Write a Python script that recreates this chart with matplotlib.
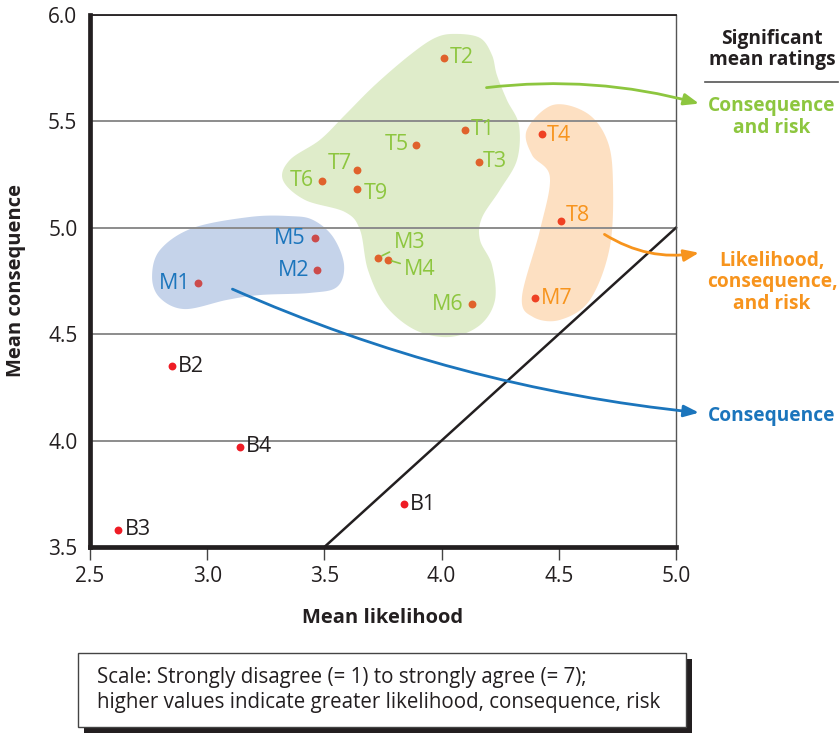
import numpy as np
import matplotlib
matplotlib.use('Agg')
from matplotlib import pyplot as plt
from matplotlib.patches import Polygon, Rectangle
from matplotlib.lines import Line2D

plt.rcParams['font.family'] = ['Open Sans', 'DejaVu Sans']

# data
names = ['T1', 'T2', 'T3', 'T4', 'T5', 'T6', 'T7', 'T8', 'T9',
         'M1', 'M2', 'M3', 'M4', 'M5', 'M6', 'M7',
         'B1', 'B2', 'B3', 'B4']
likelihood = [4.10, 4.01, 4.16, 4.43, 3.89, 3.49, 3.64, 4.51, 3.64,
              2.96, 3.47, 3.73, 3.77, 3.46, 4.13, 4.40,
              3.84, 2.85, 2.62, 3.14]
consequence = [5.46, 5.80, 5.31, 5.44, 5.39, 5.22, 5.27, 5.03, 5.18,
               4.74, 4.80, 4.86, 4.85, 4.95, 4.64, 4.67,
               3.70, 4.35, 3.58, 3.97]
group = ['cr', 'cr', 'cr', 'lcr', 'cr', 'cr', 'cr', 'lcr', 'cr',
         'c', 'c', 'cr', 'cr', 'c', 'cr', 'lcr',
         'none', 'none', 'none', 'none']

# hand-drawn cluster outlines (data coords)
green_x = [4.057, 4.164, 4.215, 4.236, 4.279, 4.330, 4.322, 4.249, 4.172, 4.164, 4.215, 4.228,
           4.164, 4.036, 3.887, 3.759, 3.686, 3.652, 3.588, 3.417, 3.323, 3.353, 3.481, 3.588,
           3.716, 3.865, 3.972]
green_y = [5.911, 5.892, 5.812, 5.718, 5.600, 5.483, 5.319, 5.178, 5.046, 4.943, 4.825, 4.661,
           4.543, 4.487, 4.520, 4.637, 4.802, 4.990, 5.074, 5.131, 5.225, 5.319, 5.413, 5.530,
           5.671, 5.812, 5.892]
blue_x = [3.353, 3.183, 2.939, 2.799, 2.765, 2.799, 2.905, 3.084, 3.225, 3.439, 3.554, 3.584,
          3.537, 3.451]
blue_y = [5.055, 5.051, 4.999, 4.896, 4.769, 4.670, 4.618, 4.661, 4.684, 4.694, 4.722, 4.825,
          4.957, 5.037]
orange_x = [4.475, 4.364, 4.386, 4.462, 4.420, 4.343, 4.390, 4.505, 4.633, 4.718, 4.731, 4.706,
            4.620]
orange_y = [5.577, 5.460, 5.342, 5.239, 4.990, 4.675, 4.581, 4.567, 4.661, 4.910, 5.225, 5.413,
            5.539]

GREEN = '#8dc63f'
ORANGE = '#f7941d'
BLUE = '#1b75bc'
TXT = '#231f20'
label_color = {'cr': GREEN, 'lcr': ORANGE, 'c': BLUE, 'none': TXT}
dot_color = {'cr': '#e0622c', 'lcr': '#ef4123', 'c': '#cc4b4b', 'none': '#ee1c25'}

# label offsets in points
offsets = {
    'T1': (4, 0, 'left'), 'T2': (4, 0, 'left'), 'T3': (3, 0, 'left'), 'T4': (3, -1, 'left'),
    'T5': (-5, 0, 'right'), 'T6': (-6, 0, 'right'), 'T7': (-4, 5, 'right'),
    'T8': (3, 4, 'left'), 'T9': (5, -3, 'left'),
    'M1': (-5, 0, 'right'), 'M2': (-6, 0, 'right'), 'M5': (-7, 0, 'right'),
    'M6': (-6, 0, 'right'), 'M7': (4, 0, 'left'),
    'B1': (4, 0, 'left'), 'B2': (4, 0, 'left'), 'B3': (5, 0, 'left'), 'B4': (4, 0, 'left'),
}
LBL = 15.5


def smooth_closed(xs, ys, n=24):
    pts = np.column_stack([xs, ys])
    P = np.vstack([pts[-1], pts, pts[0], pts[1]])
    t = np.linspace(0, 1, n, endpoint=False)[:, None]
    out = []
    for i in range(1, len(pts) + 1):
        p0, p1, p2, p3 = P[i - 1], P[i], P[i + 1], P[i + 2]
        out.append(0.5 * (2 * p1 + (-p0 + p2) * t + (2 * p0 - 5 * p1 + 4 * p2 - p3) * t ** 2
                          + (-p0 + 3 * p1 - 3 * p2 + p3) * t ** 3))
    return np.vstack(out)


fig = plt.figure(figsize=(8.4, 7.41), dpi=100)
ax = fig.add_axes([0.1071, 0.2618, 0.6976, 0.718])

for bx, by, fc in [(green_x, green_y, '#dfecca'), (blue_x, blue_y, '#c5d3ea'),
                   (orange_x, orange_y, '#fde0c2')]:
    ax.add_patch(Polygon(smooth_closed(bx, by), closed=True, facecolor=fc,
                         edgecolor='none', zorder=0.2))

ax.set_xlim(2.5, 5.0)
ax.set_ylim(3.5, 6.0)
ax.set_xticks([2.5, 3.0, 3.5, 4.0, 4.5, 5.0])
ax.set_yticks([3.5, 4.0, 4.5, 5.0, 5.5, 6.0])
ax.set_xticklabels(['2.5', '3.0', '3.5', '4.0', '4.5', '5.0'])
ax.set_yticklabels(['3.5', '4.0', '4.5', '5.0', '5.5', '6.0'])
ax.set_axisbelow(True)
ax.yaxis.grid(True, color='#8c8c8c', linewidth=1.4)
ax.tick_params(axis='y', length=0, pad=9, labelsize=15, labelcolor=TXT)
ax.tick_params(axis='x', length=9, width=1, color='#444444', pad=5, labelsize=15,
               labelcolor=TXT, direction='out')
ax.spines['left'].set_linewidth(3.4)
ax.spines['bottom'].set_linewidth(3.4)
ax.spines['left'].set_color(TXT)
ax.spines['bottom'].set_color(TXT)
ax.spines['top'].set_linewidth(1.3)
ax.spines['top'].set_color(TXT)
ax.spines['right'].set_linewidth(1.0)
ax.spines['right'].set_color('#555555')

ax.set_xlabel('Mean likelihood', fontsize=14.5, fontweight='bold', color=TXT, labelpad=15)
ax.set_ylabel('Mean consequence', fontsize=14.5, fontweight='bold', color=TXT, labelpad=16)

# diagonal reference line
ax.plot([3.5, 5.0], [3.5, 5.0], color=TXT, linewidth=1.8, zorder=2, clip_on=False)

for nm, lx, cy, g in zip(names, likelihood, consequence, group):
    ax.scatter(lx, cy, s=32, color=dot_color[g], zorder=3, linewidths=0)
    if nm in offsets:
        dx, dy, ha = offsets[nm]
        ax.annotate(nm, (lx, cy), xytext=(dx, dy), textcoords='offset points',
                    ha=ha, va='center', fontsize=LBL, color=label_color[g], zorder=4)

# M3 / M4 with leader lines
i3, i4 = names.index('M3'), names.index('M4')
ax.annotate('M3', (likelihood[i3], consequence[i3]), xytext=(11, 11), textcoords='offset points',
            ha='left', va='center', fontsize=LBL, color=GREEN,
            arrowprops=dict(arrowstyle='-', color=GREEN, lw=1.2, shrinkA=1, shrinkB=3))
ax.annotate('M4', (likelihood[i4], consequence[i4]), xytext=(12, -7), textcoords='offset points',
            ha='left', va='center', fontsize=LBL, color=GREEN,
            arrowprops=dict(arrowstyle='-', color=GREEN, lw=1.2, shrinkA=1, shrinkB=3))

# arrows to the rating categories
arrow_kw = dict(arrowstyle='-|>,head_length=0.9,head_width=0.35', lw=2.0)
ax.annotate('', xy=(5.11, 5.58), xytext=(4.18, 5.657), annotation_clip=False,
            arrowprops=dict(color=GREEN, connectionstyle='arc3,rad=-0.1', **arrow_kw))
ax.annotate('', xy=(5.11, 4.885), xytext=(4.685, 4.976), annotation_clip=False,
            arrowprops=dict(color=ORANGE, connectionstyle='arc3,rad=0.2', **arrow_kw))
ax.annotate('', xy=(5.11, 4.13), xytext=(3.097, 4.717), annotation_clip=False,
            arrowprops=dict(color=BLUE, connectionstyle='arc3,rad=0.08', **arrow_kw))

# right-hand key
KEY = 13.8
fig.text(0.919, 0.933, 'Significant\nmean ratings', ha='center', va='center', fontsize=KEY,
         fontweight='bold', color=TXT, linespacing=1.1)
fig.add_artist(Line2D([705 / 840, 838 / 840], [1 - 82 / 741] * 2, color='#555555', lw=1.2))
fig.text(0.919, 0.842, 'Consequence\nand risk', ha='center', va='center', fontsize=KEY,
         fontweight='bold', color=GREEN, linespacing=1.1)
fig.text(0.919, 0.619, 'Likelihood,\nconsequence,\nand risk', ha='center', va='center',
         fontsize=KEY, fontweight='bold', color=ORANGE, linespacing=1.1)
fig.text(0.919, 0.439, 'Consequence', ha='center', va='center', fontsize=KEY,
         fontweight='bold', color=BLUE)

# note box with drop shadow
bx0, by0, bw, bh = 78 / 840, 1 - 727 / 741, 608 / 840, 74 / 741
fig.add_artist(Rectangle((bx0 + 6 / 840, by0 - 6 / 741), bw, bh, facecolor=TXT,
                         edgecolor='none', transform=fig.transFigure))
fig.add_artist(Rectangle((bx0, by0), bw, bh, facecolor='white', edgecolor='#444444',
                         lw=1.0, transform=fig.transFigure))
fig.text(97 / 840, 1 - 690 / 741,
         'Scale: Strongly disagree (= 1) to strongly agree (= 7);\n'
         'higher values indicate greater likelihood, consequence, risk',
         ha='left', va='center', fontsize=14.8, color=TXT, linespacing=1.25)

fig.savefig('out.png', dpi=100)
